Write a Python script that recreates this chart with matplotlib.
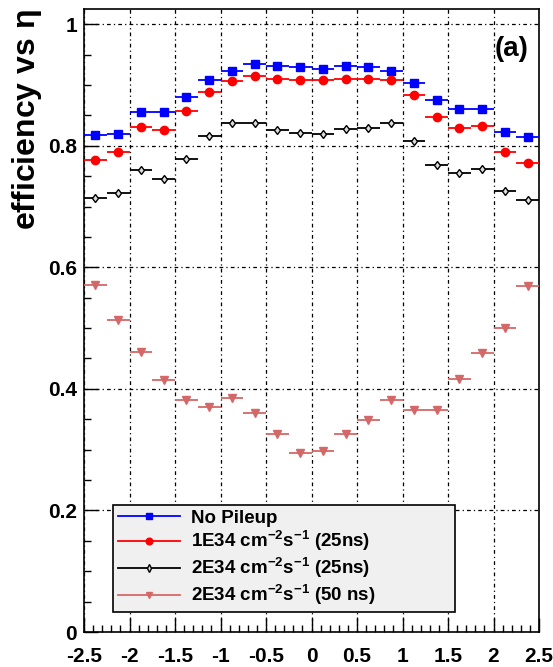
import numpy as np
import matplotlib
matplotlib.use("Agg")
import matplotlib.pyplot as plt
from matplotlib.ticker import MultipleLocator
from matplotlib.lines import Line2D

# bin centres in eta (20 bins of width 0.25)
eta = [-2.375, -2.125, -1.875, -1.625, -1.375, -1.125, -0.875, -0.625, -0.375, -0.125,
       0.125, 0.375, 0.625, 0.875, 1.125, 1.375, 1.625, 1.875, 2.125, 2.375]
half_width = 0.125

no_pileup = [0.817, 0.819, 0.855, 0.855, 0.880, 0.908, 0.923, 0.934, 0.931, 0.929,
             0.927, 0.931, 0.929, 0.923, 0.904, 0.876, 0.861, 0.861, 0.823, 0.814]
lumi1_25ns = [0.776, 0.789, 0.831, 0.826, 0.857, 0.889, 0.907, 0.914, 0.910, 0.909,
              0.908, 0.910, 0.910, 0.909, 0.884, 0.847, 0.829, 0.832, 0.789, 0.771]
lumi2_25ns = [0.714, 0.723, 0.760, 0.745, 0.779, 0.816, 0.838, 0.838, 0.826, 0.821,
              0.819, 0.828, 0.830, 0.837, 0.808, 0.768, 0.755, 0.762, 0.725, 0.711]
lumi2_50ns = [0.571, 0.513, 0.461, 0.414, 0.382, 0.371, 0.385, 0.360, 0.325, 0.295,
              0.298, 0.325, 0.348, 0.381, 0.366, 0.366, 0.416, 0.459, 0.500, 0.570]

labels = ["No Pileup",
          r"1E34 cm$^{\mathbf{-2}}$s$^{\mathbf{-1}}$ (25ns)",
          r"2E34 cm$^{\mathbf{-2}}$s$^{\mathbf{-1}}$ (25ns)",
          r"2E34 cm$^{\mathbf{-2}}$s$^{\mathbf{-1}}$ (50 ns)"]
xticks = [-2.5, -2, -1.5, -1, -0.5, 0, 0.5, 1, 1.5, 2, 2.5]
xticklabels = ["-2.5", "-2", "-1.5", "-1", "-0.5", "0", "0.5", "1", "1.5", "2", "2.5"]
yticks = [0, 0.2, 0.4, 0.6, 0.8, 1]
yticklabels = ["0", "0.2", "0.4", "0.6", "0.8", "1"]

plt.rcParams['font.family'] = ['Liberation Sans', 'DejaVu Sans']
plt.rcParams['mathtext.fontset'] = 'custom'
plt.rcParams['mathtext.rm'] = 'Liberation Sans:bold'
plt.rcParams['mathtext.bf'] = 'Liberation Sans:bold'
plt.rcParams['mathtext.it'] = 'Liberation Sans:bold'

fig = plt.figure(figsize=(5.53, 6.67), dpi=100)
ax = fig.add_axes([84/553, 1 - 632/667, (539-84)/553, (632-9)/667])

series = [
    (no_pileup, '#0000ff', 's', 5.5, '#0000ff'),
    (lumi1_25ns, '#ff0000', 'o', 6, '#ff0000'),
    (lumi2_25ns, '#000000', 'd', 4.5, '#dddddd'),
    (lumi2_50ns, '#d46868', 'v', 5.5, '#d46868'),
]
handles = []
for (vals, col, mk, ms, mfc), lab in zip(series, labels):
    ax.errorbar(eta, vals, xerr=half_width, fmt=mk, color=col, ms=ms,
                mfc=mfc, mec=col, mew=1.0, elinewidth=1.3, capsize=0, zorder=3)
    handles.append(Line2D([], [], color=col, marker=mk, ms=ms * 0.8, mfc=mfc, mec=col,
                          mew=1.0, lw=1.3, label=lab))

ax.set_xlim(-2.5, 2.5)
ax.set_ylim(0, 1.025)
ax.set_xticks(xticks)
ax.set_xticklabels(xticklabels)
ax.set_yticks(yticks)
ax.set_yticklabels(yticklabels)
ax.xaxis.set_minor_locator(MultipleLocator(0.1))
ax.yaxis.set_minor_locator(MultipleLocator(0.05))
ax.tick_params(axis='both', which='major', direction='in', length=10, width=1.0,
               labelsize=15)
ax.tick_params(axis='x', which='major', pad=11)
ax.tick_params(axis='y', which='major', pad=5)
ax.tick_params(axis='both', which='minor', direction='in', length=5, width=1.0)
ax.tick_params(top=False, right=False)
for lab in ax.get_xticklabels() + ax.get_yticklabels():
    lab.set_fontweight('bold')
ax.grid(True, which='major', color='black', linestyle=(0, (3, 2.5, 1, 2.5)),
        linewidth=0.9, zorder=1)
for sp in ax.spines.values():
    sp.set_linewidth(1.2)

fig.text(27/553, 1 - 9/667, r"efficiency vs $\eta$", rotation=90, ha='center', va='top',
         fontsize=23, fontweight='bold')
ax.text(0.976, 0.935, "(a)", transform=ax.transAxes, ha='right', va='center',
        fontsize=20, fontweight='bold')

leg = ax.legend(handles=handles, loc='lower left',
                bbox_to_anchor=((113-84)/455, (632-612)/623, (455-113)/455, (612-511)/623),
                mode='expand', frameon=True, fancybox=False, facecolor='#f0f0f0',
                edgecolor='black', framealpha=1, prop={'weight': 'bold', 'size': 13.5},
                handlelength=3.3, borderpad=0.25, labelspacing=0.15, handletextpad=0.6,
                borderaxespad=0)
leg.get_frame().set_linewidth(1.2)
leg.set_zorder(5)

fig.savefig("out.png", dpi=100, facecolor='white')
